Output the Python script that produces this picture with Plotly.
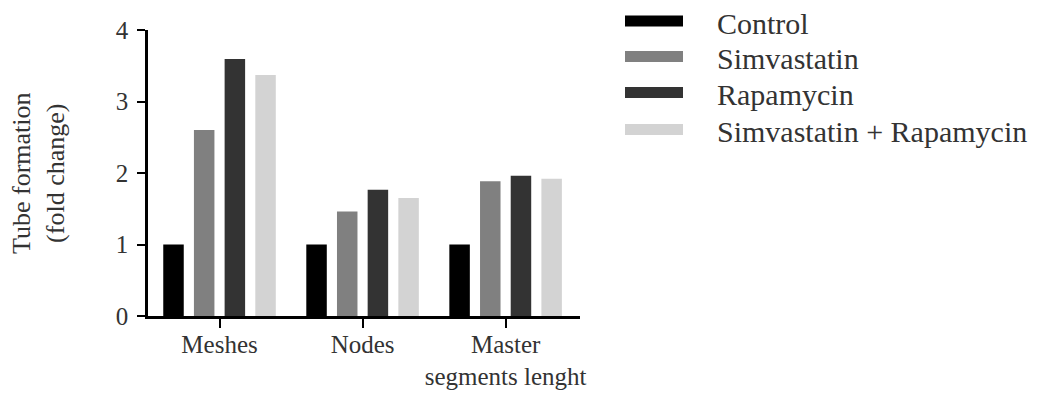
import plotly.graph_objects as go

categories = ["Meshes", "Nodes", "Master<br>segments lenght"]
series_names = ["Control", "Simvastatin", "Rapamycin", "Simvastatin + Rapamycin"]
control = [1.0, 1.0, 1.0]
simvastatin = [2.60, 1.46, 1.885]
rapamycin = [3.595, 1.765, 1.96]
simva_rapa = [3.37, 1.65, 1.92]
series_values = [control, simvastatin, rapamycin, simva_rapa]
colors = ["#000000", "#808080", "#333333", "#d3d3d3"]
y_ticks = [0, 1, 2, 3, 4]

FONT = "Liberation Serif"
TEXT = "#333333"

OFF = 8  # page body margin
W, H = 1048 - OFF, 394 - OFF
L, T = 148 - OFF, 29.5 - OFF
pw, ph = 432, 286.2
R = W - L - pw
B = H - T - ph


def px_x(p):
    return (p - OFF - L) / pw


def px_y(p):
    return (T + ph - (p - OFF)) / ph


fig = go.Figure()
for name, vals, col in zip(series_names, series_values, colors):
    fig.add_trace(go.Bar(x=categories, y=vals, name=name, marker=dict(color=col, line=dict(width=0)),
                         showlegend=False))

# manual legend
leg_y = [20.5, 56, 92, 129]
for name, col, py in zip(series_names, colors, leg_y):
    hh = 5.5 / ph
    yc = px_y(py)
    fig.add_shape(type="rect", xref="paper", yref="paper", x0=px_x(625), x1=px_x(683),
                  y0=yc - hh, y1=yc + hh, fillcolor=col, line=dict(width=0))
    fig.add_annotation(xref="paper", yref="paper", x=px_x(715), y=px_y(py + 2.5), text=name, showarrow=False,
                       xanchor="left", yanchor="middle", font=dict(family=FONT, size=30, color=TEXT))

fig.add_annotation(xref="paper", yref="paper", x=px_x(38), y=0.5,
                   text="Tube formation<br>(fold change)", textangle=-90, showarrow=False,
                   xanchor="center", yanchor="middle", font=dict(family=FONT, size=26, color=TEXT))

fig.update_layout(
    width=W, height=H,
    margin=dict(l=L, r=R, t=T, b=B, autoexpand=False),
    plot_bgcolor="white", paper_bgcolor="white",
    barmode="group", bargap=0.142, bargroupgap=0.332,
    font=dict(family=FONT, color=TEXT),
)
fig.update_xaxes(type="category", range=[-0.5, 2.52], showline=True, linecolor="black", linewidth=2.5,
                 ticks="outside", ticklen=9, tickwidth=2, tickcolor="black", showgrid=False,
                 automargin=False, ticklabelstandoff=-5, tickfont=dict(family=FONT, size=25, color=TEXT))
fig.update_yaxes(range=[0, 4], tickvals=y_ticks, showline=True, linecolor="black", linewidth=2.5,
                 ticks="outside", ticklen=8, tickwidth=2, tickcolor="black", showgrid=False, zeroline=False,
                 automargin=False, ticklabelstandoff=4, tickfont=dict(family=FONT, size=25, color=TEXT))

fig.write_html("out.html")
